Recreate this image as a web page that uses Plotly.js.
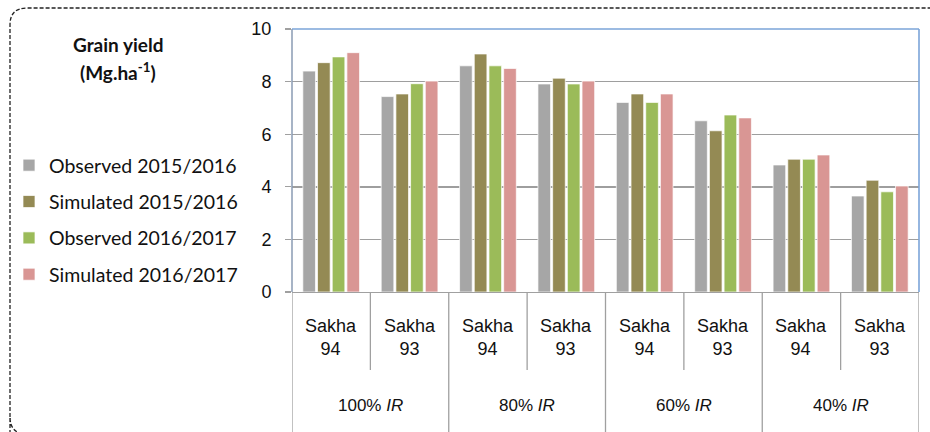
<!DOCTYPE html>
<html>
<head>
<meta charset="utf-8">
<script src="https://cdn.plot.ly/plotly-3.0.1.min.js"></script>
<style>html,body{margin:0;padding:0;background:#fff;}#chart{width:930px;height:432px;}</style>
</head>
<body>
<div id="chart"></div>
<script>
// ---- data ----
const irLevels = ['100% IR', '80% IR', '60% IR', '40% IR'];
const cultivars = ['Sakha 94', 'Sakha 93'];
const seriesNames = ['Observed 2015/2016', 'Simulated 2015/2016', 'Observed 2016/2017', 'Simulated 2016/2017'];
const observed1516 = [8.40, 7.43, 8.60, 7.91, 7.21, 6.51, 4.83, 3.65];
const simulated1516 = [8.72, 7.53, 9.05, 8.13, 7.53, 6.13, 5.05, 4.25];
const observed1617 = [8.94, 7.92, 8.60, 7.91, 7.21, 6.73, 5.05, 3.81];
const simulated1617 = [9.10, 8.02, 8.50, 8.02, 7.53, 6.62, 5.21, 4.03];
const yTicks = [0, 2, 4, 6, 8, 10];

// ---- styles ----
const colors = ['#A6A6A6', '#948A54', '#9BBB59', '#D99694'];
const W = 930, H = 432;
const M = {l: 292, r: 11, t: 29, b: 140};
const PW = W - M.l - M.r, PH = H - M.t - M.b;
const px = v => (v - M.l) / PW;
const py = v => 1 - (v - M.t) / PH;

const categories = [];
irLevels.forEach(ir => cultivars.forEach(cv => categories.push(ir + ' | ' + cv)));

const values = [observed1516, simulated1516, observed1617, simulated1617];
const traces = values.map((vals, i) => ({
  type: 'bar',
  name: seriesNames[i],
  x: categories,
  y: vals,
  legendgroup: 'g' + i,
  marker: {color: colors[i], line: {color: 'rgba(255,255,255,0.7)', width: 1}},
  hoverinfo: 'y+name'
}));

const annotations = [];
categories.forEach((c, i) => {
  const cv = cultivars[i % cultivars.length];
  annotations.push({
    x: c, xref: 'x', y: py(337), yref: 'paper', yanchor: 'middle', xanchor: 'center',
    text: cv.replace(' ', '<br>'), showarrow: false,
    font: {family: 'Liberation Sans, Arial, sans-serif', size: 18, color: '#111'}
  });
});
irLevels.forEach((ir, j) => {
  annotations.push({
    x: j * cultivars.length + (cultivars.length - 1) / 2, xref: 'x', y: py(405), yref: 'paper',
    yanchor: 'middle', xanchor: 'center',
    text: ir.replace('IR', '<i>IR</i>'), showarrow: false,
    font: {family: 'Liberation Sans, Arial, sans-serif', size: 17, color: '#111'}
  });
});
annotations.push({
  x: px(118), xref: 'paper', y: py(45), yref: 'paper', xanchor: 'center', yanchor: 'middle',
  text: '<b>Grain yield</b>', showarrow: false,
  font: {family: 'Lato, sans-serif', size: 19, color: '#111'}
});
annotations.push({
  x: px(118), xref: 'paper', y: py(72), yref: 'paper', xanchor: 'center', yanchor: 'middle',
  text: '<b>(Mg.ha<sup>-1</sup>)</b>', showarrow: false,
  font: {family: 'Lato, sans-serif', size: 19, color: '#111'}
});

const shapes = [];
const divColor = '#A0A0A0';
for (let b = 0; b <= categories.length; b++) {
  const outer = b % cultivars.length === 0;
  shapes.push({
    type: 'line', xref: 'x', yref: 'paper', x0: b - 0.5, x1: b - 0.5,
    y0: 0, y1: outer ? py(440) : py(370),
    line: {color: divColor, width: 1.3}, layer: 'above'
  });
}
// blue frame top and right
shapes.push({type: 'line', xref: 'paper', yref: 'paper', x0: 0, x1: 1, y0: 1, y1: 1, line: {color: '#7BA4D9', width: 1.6}});
shapes.push({type: 'line', xref: 'paper', yref: 'paper', x0: 1, x1: 1, y0: 0, y1: 1, line: {color: '#7BA4D9', width: 1.6}});
// left axis line (above zero)
shapes.push({type: 'line', xref: 'paper', yref: 'paper', x0: 0, x1: 0, y0: 0, y1: 1, line: {color: '#8A9BB3', width: 1.5}});
// dashed rounded outer frame
const r = 17, L = 10, T = 8, R = 948, B = 434;
const path = `M ${px(L)},${py(470)} L ${px(L)},${py(B - r)} Q ${px(L)},${py(B)} ${px(L + r)},${py(B)} ` +
  `M ${px(L)},${py(B - r)} L ${px(L)},${py(T + r)} Q ${px(L)},${py(T)} ${px(L + r)},${py(T)} ` +
  `L ${px(R - r)},${py(T)} Q ${px(R)},${py(T)} ${px(R)},${py(T + r)} L ${px(R)},${py(470)}`;
shapes.push({type: 'path', xref: 'paper', yref: 'paper', path: path, line: {color: '#222', width: 1.3, dash: '4px,2px'}});

const layout = {
  width: W, height: H,
  margin: M,
  paper_bgcolor: '#fff', plot_bgcolor: '#fff',
  barmode: 'group', bargap: 0.25, bargroupgap: 0.14,
  font: {family: 'Liberation Sans, Arial, sans-serif', color: '#111'},
  xaxis: {
    type: 'category', categoryorder: 'array', categoryarray: categories,
    range: [-0.5, categories.length - 0.5],
    showticklabels: false, ticks: '', showgrid: false, zeroline: false,
    showline: true, linecolor: divColor, linewidth: 1.3
  },
  yaxis: {
    range: [0, 10], tickvals: yTicks, ticktext: yTicks.map(String),
    ticks: 'outside', ticklen: 6, tickcolor: divColor, tickwidth: 1.3,
    ticklabelstandoff: 10,
    showgrid: true, gridcolor: '#9E9E9E', gridwidth: 1.4,
    zeroline: false, showline: false,
    tickfont: {family: 'Liberation Sans, Arial, sans-serif', size: 18, color: '#111'}
  },
  showlegend: true,
  legend: {
    xref: 'container', yref: 'container', x: 9 / W, y: 1 - 146 / H,
    xanchor: 'left', yanchor: 'top',
    traceorder: 'grouped', tracegroupgap: 8,
    bgcolor: 'rgba(0,0,0,0)',
    font: {family: 'Lato, sans-serif', size: 19.5, color: '#111'}
  },
  annotations: annotations,
  shapes: shapes
};

Plotly.newPlot('chart', traces, layout, {displayModeBar: false, staticPlot: true});
</script>
</body>
</html>
